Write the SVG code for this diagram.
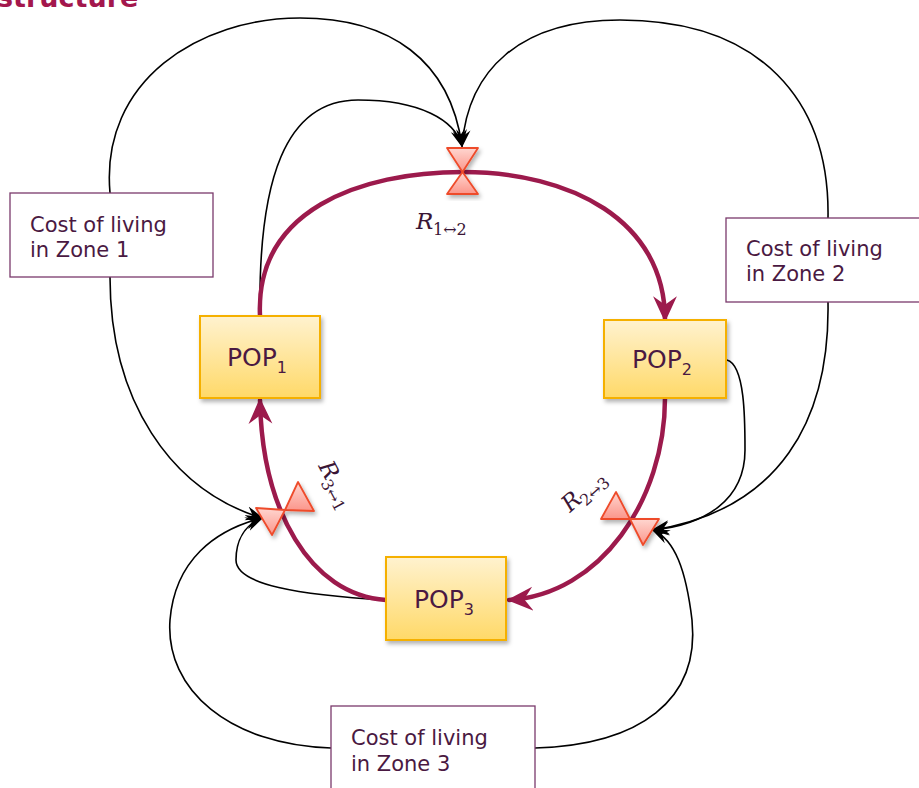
<svg xmlns="http://www.w3.org/2000/svg" width="919" height="788" viewBox="0 0 919 788">
<style>
.lbl{font-family:"DejaVu Sans","Liberation Sans",sans-serif;font-size:21px;fill:#4a1942}
.box{fill:#fff;stroke:#7a3a6c;stroke-width:1.3}
.pop{fill:url(#popg);stroke:#f5b000;stroke-width:2;filter:url(#sh)}
.pt{font-family:"DejaVu Sans","Liberation Sans",sans-serif;font-size:25px;fill:#4a1942}
.ps{font-size:16px}
.flow{fill:none;stroke:#9c1a4c;stroke-width:4.5;stroke-linecap:round}
.info{fill:none;stroke:#000;stroke-width:1.6}
.valve{fill:url(#vg);stroke:#ee4b2b;stroke-width:1.8;stroke-linejoin:round;filter:url(#sh)}
.rt{font-family:"DejaVu Serif","Liberation Serif",serif;font-style:italic;font-size:23px;fill:#3a1535}
.rs{font-family:"DejaVu Serif","Liberation Serif",serif;font-size:16px;fill:#3a1535}
</style>
<defs>
<linearGradient id="popg" x1="0" y1="0" x2="0" y2="1">
<stop offset="0" stop-color="#fff2cf"/><stop offset="1" stop-color="#ffd968"/>
</linearGradient>
<linearGradient id="vg" x1="0" y1="0" x2="0" y2="1">
<stop offset="0" stop-color="#ffd6d0"/><stop offset="1" stop-color="#fb958a"/>
</linearGradient>
<filter id="sh" x="-20%" y="-20%" width="150%" height="150%">
<feDropShadow dx="2" dy="3" stdDeviation="2" flood-color="#000" flood-opacity="0.3"/>
</filter>
<marker id="ah" viewBox="0 0 20 20" refX="18" refY="10" markerWidth="18" markerHeight="18" markerUnits="userSpaceOnUse" orient="auto">
<path d="M0 2 L20 10 L0 18 L7 10 Z" fill="#000"/>
</marker>
<marker id="rh" viewBox="0 0 24 24" refX="22" refY="12" markerWidth="26" markerHeight="26" markerUnits="userSpaceOnUse" orient="auto">
<path d="M0 1 L24 12 L0 23 L8 12 Z" fill="#9c1a4c"/>
</marker>
</defs>

<text x="-3" y="7" style="font-family:'DejaVu Sans','Liberation Sans',sans-serif;font-weight:bold;font-size:27px;fill:#a3174d">structure</text>

<g id="connectors">
<path class="info" d="M110 193 C100 80 200 18 300 18 C390 18 450 60 462 146" marker-end="url(#ah)"/>
<path class="info" d="M260 316 C258 180 285 100 358 100 C420 100 455 120 462 146" marker-end="url(#ah)"/>
<path class="info" d="M828 218 C830 100 760 20 620 20 C520 20 468 70 462 146" marker-end="url(#ah)"/>
<path class="info" d="M828 302 C830 420 780 510 653 530" marker-end="url(#ah)"/>
<path class="info" d="M727 360 C745 365 745 420 745 450 C745 500 705 525 653 530" marker-end="url(#ah)"/>
<path class="info" d="M535 748 C640 745 700 700 692 620 C686 570 675 540 653 530" marker-end="url(#ah)"/>
<path class="info" d="M331 748 C230 745 165 690 170 620 C175 560 215 530 262 518" marker-end="url(#ah)"/>
<path class="info" d="M110 277 C110 400 170 490 262 518" marker-end="url(#ah)"/>
<path class="info" d="M386 600 C300 595 236 585 236 560 C236 540 245 525 262 518" marker-end="url(#ah)"/>

<path class="flow" d="M260 316 C255 210 360 172 463 172 C570 172 665 220 665 320" marker-end="url(#rh)"/>
<path class="flow" d="M665 398 C665 500 600 595 509 600" marker-end="url(#rh)"/>
<path class="flow" d="M386 600 C310 595 262 510 260 400" marker-end="url(#rh)"/>
</g>

<g id="valve12">
<path class="valve" d="M447 148 L478 148 L462.5 172 Z"/>
<path class="valve" d="M462.5 172 L447 194 L478 194 Z"/>
</g>
<g id="valve31">
<path class="valve" d="M285 510 L314 511 L298 482 Z"/>
<path class="valve" d="M256 508 L285 510 L272 535 Z"/>
</g>
<g id="valve23">
<path class="valve" d="M601 519 L630 519 L616 492 Z"/>
<path class="valve" d="M630 519 L659 519 L643 545 Z"/>
</g>

<g id="r12"><text x="416" y="229" class="rt">R</text><text x="433" y="235" class="rs">1↔2</text></g>
<g id="r31" transform="translate(318 466) rotate(62)"><text x="0" y="0" class="rt">R</text><text x="16" y="6" class="rs">3↔1</text></g>
<g id="r23" transform="translate(570 513) rotate(-42)"><text x="0" y="0" class="rt">R</text><text x="16" y="6" class="rs">2↔3</text></g>

<g id="pop1"><rect class="pop" x="200" y="316" width="120" height="82"/><text x="227" y="366" class="pt">POP<tspan class="ps" dy="7">1</tspan></text></g>
<g id="pop2"><rect class="pop" x="604" y="320" width="122" height="78"/><text x="632" y="368" class="pt">POP<tspan class="ps" dy="7">2</tspan></text></g>
<g id="pop3"><rect class="pop" x="386" y="557" width="120" height="83"/><text x="414" y="608" class="pt">POP<tspan class="ps" dy="7">3</tspan></text></g>

<g id="cost1"><rect class="box" x="10" y="193" width="203" height="84"/><text class="lbl" x="30" y="232">Cost of living</text><text class="lbl" x="30" y="257">in Zone 1</text></g>
<g id="cost2"><rect class="box" x="726" y="218" width="200" height="84"/><text class="lbl" x="746" y="256">Cost of living</text><text class="lbl" x="746" y="281">in Zone 2</text></g>
<g id="cost3"><rect class="box" x="331" y="706" width="204" height="90"/><text class="lbl" x="351" y="745">Cost of living</text><text class="lbl" x="351" y="771">in Zone 3</text></g>
</svg>
